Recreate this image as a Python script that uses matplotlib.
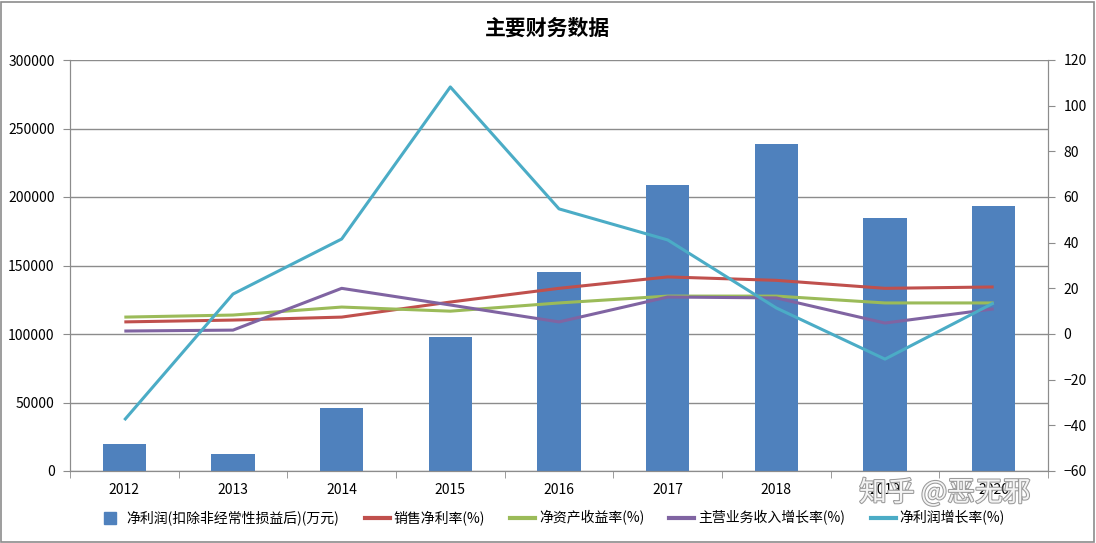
import matplotlib
matplotlib.use("Agg")
import matplotlib.pyplot as plt
import matplotlib.patheffects as pe
from matplotlib.patches import Rectangle
from matplotlib.lines import Line2D
import numpy as np

plt.rcParams['font.family'] = ['Noto Sans CJK SC', 'DejaVu Sans']

years = ['2012', '2013', '2014', '2015', '2016', '2017', '2018', '2019', '2020']
net_profit = [19700, 12400, 46000, 97800, 145300, 208800, 238700, 184700, 193500]
sales_margin = [5.3, 6.1, 7.4, 14.0, 20.0, 25.0, 23.5, 20.0, 20.6]
roe = [7.4, 8.3, 11.8, 10.0, 13.6, 16.6, 16.6, 13.6, 13.6]
revenue_growth = [1.3, 1.7, 20.0, 12.7, 5.3, 16.2, 15.8, 4.8, 11.0]
profit_growth = [-37.7, 17.5, 41.6, 108.2, 54.8, 41.2, 11.4, -11.0, 13.6]

labels = ['净利润(扣除非经常性损益后)(万元)', '销售净利率(%)', '净资产收益率(%)',
          '主营业务收入增长率(%)', '净利润增长率(%)']
colors = ['#4F81BD', '#C0504D', '#9BBB59', '#8064A2', '#4BACC6']
grid_c = '#8c8c8c'

fig = plt.figure(figsize=(10.96, 5.43), dpi=100)
fig.patches.append(Rectangle((0.001, 0.002), 0.997, 0.995, transform=fig.transFigure,
                             fill=False, edgecolor='#8c8c8c', linewidth=1.2))
ax = fig.add_axes([70/1096, 1-471/543, (1048-70)/1096, (471-60)/543])
x = np.arange(len(years))
bars = ax.bar(x, net_profit, width=0.4, color=colors[0], label=labels[0], zorder=2)
ax.set_xlim(-0.5, len(years)-0.5)
ax.set_ylim(0, 300000)
ax.set_yticks(np.arange(0, 300001, 50000))
ax.yaxis.grid(True, color=grid_c, linewidth=1)
ax.set_axisbelow(True)
ax.set_xticks(x)
ax.set_xticklabels(years)
ax.set_xticks(np.arange(-0.5, len(years), 1), minor=True)
ax.tick_params(axis='x', which='major', length=0, pad=9, labelsize=10, colors='#000000')
ax.tick_params(axis='x', which='minor', length=5, color=grid_c)
ax.tick_params(axis='y', length=5, color=grid_c, labelsize=10, pad=6)
ax.spines['top'].set_visible(False)
for s in ['left', 'right', 'bottom']:
    ax.spines[s].set_color(grid_c)

ax2 = ax.twinx()
ax2.set_ylim(-60, 120)
ax2.set_yticks(np.arange(-60, 121, 20))
ax2.tick_params(axis='y', length=5, color=grid_c, labelsize=10, pad=6)
ax2.spines['top'].set_visible(False)
for s in ['left', 'right', 'bottom']:
    ax2.spines[s].set_color(grid_c)
lines = []
for vals, c, lab in zip([sales_margin, roe, revenue_growth, profit_growth], colors[1:], labels[1:]):
    l, = ax2.plot(x, vals, color=c, linewidth=2.2, label=lab, solid_capstyle='butt')
    lines.append(l)

fig.text(0.5, 1-28/543, '主要财务数据', ha='center', va='center', fontsize=15, fontweight='bold')

bar_handle = Line2D([], [], linestyle='none', marker='s', markersize=8,
                    markerfacecolor=colors[0], markeredgecolor=colors[0])
legend_lines = [Line2D([], [], color=c, linewidth=3) for c in colors[1:]]
handles = [bar_handle] + legend_lines
fig.legend(handles, labels, loc='center', bbox_to_anchor=(0.503, 1-518/543), ncol=5,
           frameon=False, fontsize=10, handlelength=1.8, columnspacing=1.8, handletextpad=0.3)

fig.text(0.862, 1-493/543, '知乎 @恶无邪', ha='center', va='center', fontsize=20,
         color='#f4f4f4', path_effects=[pe.withStroke(linewidth=1.5, foreground='#9a9a9a')])

fig.savefig('out.png', dpi=100)
